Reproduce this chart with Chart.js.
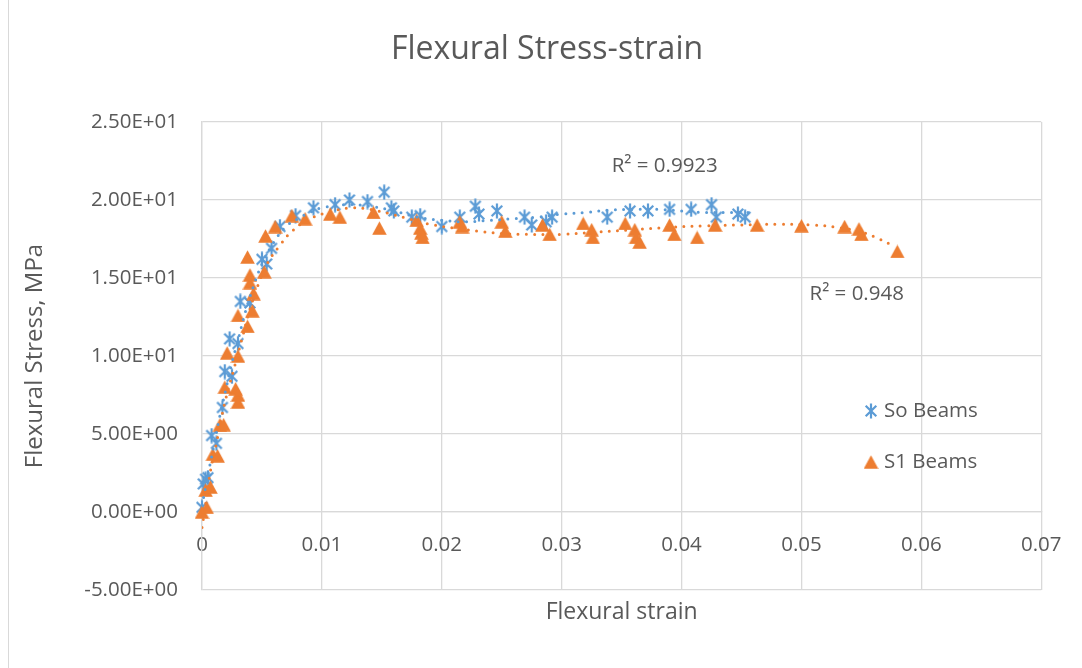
<!DOCTYPE html>
<html>
<head>
<meta charset="utf-8">
<title>Flexural Stress-strain</title>
<script src="https://cdn.jsdelivr.net/npm/chart.js@4.4.1/dist/chart.umd.min.js"></script>
<style>
  html, body { margin: 0; padding: 0; background: #ffffff; }
  canvas { display: block; }
</style>
</head>
<body>
<canvas id="chart" width="1082" height="668"></canvas>
<script>
// ---- measured points: flexural strain (-) vs flexural stress (MPa) ----
const soStrain = [0.0000, 0.0001, 0.0003, 0.0005, 0.0008, 0.0012, 0.0017, 0.0019, 0.0025, 0.0023,
                  0.0030, 0.0032, 0.0040, 0.0050, 0.0054, 0.0058, 0.0065, 0.0078, 0.0093, 0.0111,
                  0.0123, 0.0138, 0.0152, 0.0158, 0.0160, 0.0175, 0.0182, 0.0200, 0.0215, 0.0228,
                  0.0231, 0.0246, 0.0269, 0.0275, 0.0287, 0.0292, 0.0338, 0.0357, 0.0372, 0.0390,
                  0.0408, 0.0425, 0.0429, 0.0447, 0.0453];
const soStress = [0.3, 1.8, 2.1, 2.2, 4.9, 4.4, 6.7, 9.0, 8.7, 11.1,
                  10.8, 13.5, 13.4, 16.2, 15.9, 16.9, 18.3, 19.0, 19.5, 19.7,
                  20.0, 19.9, 20.5, 19.5, 19.3, 18.9, 19.0, 18.3, 18.9, 19.6,
                  19.1, 19.3, 18.9, 18.4, 18.6, 18.9, 18.9, 19.3, 19.3, 19.4,
                  19.4, 19.7, 18.9, 19.1, 18.9];

const s1Strain = [0.0000, 0.0004, 0.0003, 0.0007, 0.0009, 0.0013, 0.0015, 0.0018, 0.0019, 0.0028,
                  0.0030, 0.0030, 0.0021, 0.0030, 0.0030, 0.0038, 0.0042, 0.0043, 0.0040, 0.0040,
                  0.0052, 0.0038, 0.0053, 0.0061, 0.0075, 0.0086, 0.0107, 0.0115, 0.0143, 0.0148,
                  0.0179, 0.0182, 0.0183, 0.0184, 0.0215, 0.0217, 0.0250, 0.0253, 0.0284, 0.0290,
                  0.0318, 0.0325, 0.0326, 0.0353, 0.0361, 0.0362, 0.0365, 0.0390, 0.0394, 0.0413,
                  0.0428, 0.0463, 0.0500, 0.0536, 0.0548, 0.0550, 0.0580];
const s1Stress = [0.0, 0.3, 1.4, 1.6, 3.7, 3.6, 5.6, 5.6, 8.0, 7.9,
                  7.5, 7.05, 10.2, 10.0, 12.6, 11.9, 12.9, 14.0, 14.7, 15.2,
                  15.4, 16.35, 17.7, 18.3, 19.0, 18.8, 19.1, 18.9, 19.2, 18.2,
                  18.7, 18.2, 17.9, 17.6, 18.6, 18.3, 18.6, 18.0, 18.4, 17.8,
                  18.5, 18.1, 17.6, 18.5, 18.1, 17.6, 17.3, 18.4, 17.8, 17.6,
                  18.4, 18.4, 18.35, 18.3, 18.15, 17.8, 16.7];

// ---- polynomial trendlines, traced point by point ----
const soTrendStrain = [0.0000, 0.0005, 0.0010, 0.0015, 0.0020, 0.0025, 0.0030, 0.0035, 0.0040, 0.0050,
                       0.0060, 0.0070, 0.0080, 0.0090, 0.0100, 0.0120, 0.0140, 0.0160, 0.0180, 0.0200,
                       0.0220, 0.0240, 0.0260, 0.0280, 0.0300, 0.0320, 0.0340, 0.0360, 0.0380, 0.0400,
                       0.0420, 0.0440, 0.0456];
const soTrendStress = [0.4, 2.4, 4.3, 6.2, 7.9, 9.6, 11.0, 12.5, 13.8, 15.9,
                       17.3, 18.3, 18.8, 19.2, 19.5, 19.7, 19.6, 19.3, 18.9, 18.7,
                       18.6, 18.7, 18.8, 18.9, 19.1, 19.2, 19.35, 19.4, 19.4, 19.3,
                       19.2, 19.2, 19.2];

const s1TrendStrain = [0.0000, 0.0004, 0.0007, 0.0012, 0.0019, 0.0026, 0.0033, 0.0040, 0.0047, 0.0055,
                       0.0065, 0.0075, 0.0090, 0.0105, 0.0125, 0.0140, 0.0155, 0.0170, 0.0190, 0.0210,
                       0.0230, 0.0250, 0.0270, 0.0300, 0.0330, 0.0360, 0.0390, 0.0420, 0.0450, 0.0480,
                       0.0510, 0.0530, 0.0550, 0.0565, 0.0578];
const s1TrendStress = [-1.0, 1.0, 2.6, 4.4, 7.0, 9.0, 11.0, 13.0, 14.6, 16.0,
                       17.1, 18.0, 18.8, 19.2, 19.5, 19.4, 19.15, 18.85, 18.45, 18.2,
                       18.0, 17.85, 17.8, 17.8, 17.95, 18.1, 18.25, 18.35, 18.4, 18.45,
                       18.4, 18.25, 17.95, 17.5, 17.0];

// ---- axes ----
const xTicks = [0, 0.01, 0.02, 0.03, 0.04, 0.05, 0.06, 0.07];
const yTicks = [-5, 0, 5, 10, 15, 20, 25];

const seriesNames = ['So Beams', 'S1 Beams'];
const r2Labels = ['R\u00B2 = 0.9923', 'R\u00B2 = 0.948'];

const BLUE = '#5B9BD5';
const ORANGE = '#ED7D31';
const TEXT = '#595959';
const GRID = '#d9d9d9';
const FONT = '"Open Sans", "Noto Sans", sans-serif';

const toXY = (xs, ys) => xs.map((x, i) => ({ x: x, y: ys[i] }));

// marker glyphs
function asteriskMarker() {
  const c = document.createElement('canvas');
  c.width = 16; c.height = 16;
  const g = c.getContext('2d');
  g.strokeStyle = BLUE; g.lineWidth = 2.2; g.lineCap = 'butt';
  g.beginPath();
  g.moveTo(8, 0.5); g.lineTo(8, 15.5);
  g.moveTo(2.7, 2.7); g.lineTo(13.3, 13.3);
  g.moveTo(13.3, 2.7); g.lineTo(2.7, 13.3);
  g.stroke();
  return c;
}
function triangleMarker() {
  const c = document.createElement('canvas');
  c.width = 15; c.height = 14;
  const g = c.getContext('2d');
  g.fillStyle = ORANGE;
  g.beginPath();
  g.moveTo(7.5, 0.3); g.lineTo(14.8, 13.7); g.lineTo(0.2, 13.7);
  g.closePath();
  g.fill();
  return c;
}
const starImg = asteriskMarker();
const triImg = triangleMarker();

function sci(v) {
  const parts = v.toExponential(2).split('e');
  const n = parseInt(parts[1], 10);
  return parts[0] + 'E' + (n < 0 ? '-' : '+') + String(Math.abs(n)).padStart(2, '0');
}

// title, legend box, R² notes and outer frame
const decorations = {
  id: 'decorations',
  afterDraw(chart) {
    const ctx = chart.ctx;
    const xs = chart.scales.x, ys = chart.scales.y;
    ctx.save();
    ctx.strokeStyle = GRID; ctx.lineWidth = 1;
    ctx.beginPath(); ctx.moveTo(8.5, 0); ctx.lineTo(8.5, 668); ctx.stroke();

    ctx.fillStyle = TEXT;
    ctx.textBaseline = 'middle';
    ctx.textAlign = 'center';
    ctx.font = '32px ' + FONT;
    ctx.fillText('Flexural Stress-strain', 547, 50);

    ctx.font = '20.5px ' + FONT;
    ctx.textAlign = 'left';
    ctx.fillText(r2Labels[0], xs.getPixelForValue(0.03417), ys.getPixelForValue(22.2));
    ctx.fillText(r2Labels[1], xs.getPixelForValue(0.05067), ys.getPixelForValue(13.95));

    const items = [[starImg, seriesNames[0], 411], [triImg, seriesNames[1], 462]];
    items.forEach(([img, name, y]) => {
      ctx.drawImage(img, 871 - img.width / 2, y - img.height / 2);
      ctx.fillText(name, 884, y);
    });
    ctx.restore();
  }
};

new Chart(document.getElementById('chart'), {
  type: 'scatter',
  data: {
    datasets: [
      {
        label: seriesNames[0] + ' trend',
        data: toXY(soTrendStrain, soTrendStress),
        showLine: true, pointRadius: 0, tension: 0.4,
        borderColor: BLUE, borderWidth: 3, borderDash: [0, 8.3], borderCapStyle: 'round',
        xAxisID: 'x', yAxisID: 'y', order: 1
      },
      {
        label: seriesNames[1] + ' trend',
        data: toXY(s1TrendStrain, s1TrendStress),
        showLine: true, pointRadius: 0, tension: 0.4,
        borderColor: ORANGE, borderWidth: 3, borderDash: [0, 8.3], borderCapStyle: 'round',
        xAxisID: 'x', yAxisID: 'y', order: 0
      },
      {
        label: seriesNames[0],
        data: toXY(soStrain, soStress),
        pointStyle: starImg, pointRadius: 7, clip: false,
        xAxisID: 'x', yAxisID: 'y', order: 3
      },
      {
        label: seriesNames[1],
        data: toXY(s1Strain, s1Stress),
        pointStyle: triImg, pointRadius: 7, clip: false,
        xAxisID: 'x', yAxisID: 'y', order: 2
      }
    ]
  },
  options: {
    responsive: false,
    animation: false,
    events: [],
    layout: { autoPadding: false, padding: { top: 122, left: 0, right: 40, bottom: 0 } },
    plugins: { legend: { display: false }, title: { display: false }, tooltip: { enabled: false } },
    scales: {
      x: {
        type: 'linear',
        position: { y: 0 },
        min: 0, max: 0.07,
        afterBuildTicks: s => { s.ticks = xTicks.map(v => ({ value: v })); },
        afterFit: s => { s.height = 0; },
        grid: { color: GRID, lineWidth: 1.3, drawTicks: false },
        border: { color: GRID, width: 1.3 },
        ticks: {
          padding: 20.5, color: TEXT, font: { family: FONT, size: 20.5 },
          maxRotation: 0, autoSkip: false,
          callback: v => String(+v.toFixed(2))
        }
      },
      y: {
        type: 'linear',
        position: 'left',
        min: -5, max: 25,
        afterBuildTicks: s => { s.ticks = yTicks.map(v => ({ value: v })); },
        afterFit: s => { s.width = 202; },
        grid: { color: GRID, lineWidth: 1.3, drawTicks: false },
        border: { color: GRID, width: 1.3 },
        ticks: { padding: 24, color: TEXT, font: { family: FONT, size: 20.5 }, callback: v => sci(v) },
        title: {
          display: true, text: 'Flexural Stress, MPa', color: TEXT,
          font: { family: FONT, size: 24 }, padding: { top: 20.6, bottom: 0 }
        }
      },
      xTitle: {
        type: 'linear',
        axis: 'x',
        position: 'bottom',
        afterFit: s => { s.height = 78; },
        grid: { display: false },
        border: { display: false },
        ticks: { display: false },
        title: {
          display: true, text: 'Flexural strain', color: TEXT,
          font: { family: FONT, size: 23 }, padding: { top: 0, bottom: 42 }
        }
      }
    }
  },
  plugins: [decorations]
});
</script>
</body>
</html>
